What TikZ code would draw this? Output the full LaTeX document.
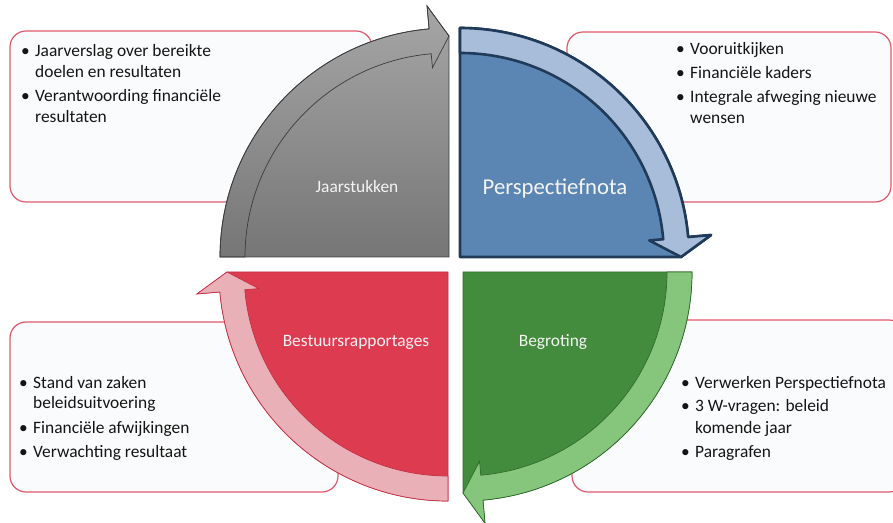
\documentclass[tikz,border=0pt]{standalone}
\usepackage{fontspec}
\setmainfont{Carlito}
\usetikzlibrary{calc}

\definecolor{boxline}{HTML}{E05A6B}
\definecolor{boxfill}{HTML}{FAFBFC}
\definecolor{bodytext}{HTML}{151515}
\definecolor{labeltext}{HTML}{F4F4F4}
\definecolor{jsTop}{HTML}{A6A6A6}
\definecolor{jsBot}{HTML}{767676}
\definecolor{jsLine}{HTML}{3C3C3C}
\definecolor{pnFill}{HTML}{5B86B3}
\definecolor{pnBand}{HTML}{A7BDD9}
\definecolor{pnLine}{HTML}{203A5A}
\definecolor{bgFill}{HTML}{438B3D}
\definecolor{bgBand}{HTML}{86C67C}
\definecolor{bgLine}{HTML}{306A2B}
\definecolor{brFill}{HTML}{DC3B50}
\definecolor{brBand}{HTML}{EAB0B8}
\definecolor{brLine}{HTML}{C42E42}

\begin{document}
\begin{tikzpicture}
    [x=1pt,y=1pt,
    infobox/.style={draw=boxline,line width=1.2pt,fill=boxfill,rounded corners=16pt},
    quadlabel/.style={anchor=base,text=labeltext,font=\fontsize{17.4}{21}\selectfont},
    bullets/.style={anchor=base west,inner sep=0pt,text=bodytext,font=\fontsize{17.4}{21}\selectfont},
    js-body/.style={top color=jsTop,bottom color=jsBot,draw=jsLine,line width=.7pt},
    js-band/.style={draw=jsLine,line width=.7pt},
    pn-body/.style={fill=pnFill,draw=pnLine,line width=2.6pt,line join=round},
    pn-band/.style={fill=pnBand,draw=pnLine,line width=2.6pt,line join=round},
    bg-body/.style={fill=bgFill,draw=bgLine,line width=.7pt},
    bg-band/.style={fill=bgBand,draw=bgLine,line width=.7pt},
    br-body/.style={fill=brFill,draw=brLine,line width=.7pt},
    br-band/.style={fill=brBand,draw=brLine,line width=.7pt}]

\useasboundingbox (0,0) rectangle (893,522);
\clip (0,0) rectangle (893,522);

%info boxes behind the cycle
\draw[infobox] (10,320) rectangle (372,491);
\draw[infobox] (567,320) rectangle (891,490);
\draw[infobox] (10,30) rectangle (338,200);
\draw[infobox] (572,30) rectangle (905,202);

%centres of the four quadrants
\coordinate (js) at (449,265);
\coordinate (pn) at (460,265);
\coordinate (bg) at (463,250);
\coordinate (br) at (448,250);

%quarter discs with their curved arrows
\foreach \q/\s in {js/180,pn/90,bg/0,br/-90}{
  \draw[\q-body] (\q) -- ($(\q)+(\s:229)$) arc[start angle=\s,end angle=\s-85,radius=229]
    -- ($(\q)+(\s-85:252)$) -- ($(\q)+(\s-90:221)$) -- cycle;
  \draw[\q-band] ($(\q)+(\s:229)$) arc[start angle=\s,end angle=\s-85,radius=229]
    -- ($(\q)+(\s-85:252)$) -- ($(\q)+(\s-90:221)$) -- ($(\q)+(\s-85:190)$)
    -- ($(\q)+(\s-85:204)$) arc[start angle=\s-85,end angle=\s,radius=204] -- cycle;
}

%names of the stages
\node[quadlabel] (jslabel) at (357,329) {Jaarstukken};
\node[quadlabel,font=\fontsize{22.7}{27}\selectfont] (pnlabel) at (555,327) {Perspectiefnota};
\node[quadlabel] (bglabel) at (553,175) {Begroting};
\node[quadlabel] (brlabel) at (356,175) {Bestuursrapportages};

%bullet texts
\node[bullets] (jstext) at (21,465) {\begin{tabular}[t]{@{}p{14pt}@{}l@{}}
  \textbullet & Jaarverslag over bereikte\\
              & doelen en resultaten\\[3pt]
  \textbullet & Verantwoording financiële\\
              & resultaten
  \end{tabular}};
\node[bullets] (pntext) at (676,467) {\begin{tabular}[t]{@{}p{14pt}@{}l@{}}
  \textbullet & Vooruitkijken\\[3pt]
  \textbullet & Financiële kaders\\[3pt]
  \textbullet & Integrale afweging nieuwe\\
              & wensen
  \end{tabular}};
\node[bullets] (brtext) at (19,134) {\begin{tabular}[t]{@{}p{14pt}@{}l@{}}
  \textbullet & Stand van zaken\\
              & beleidsuitvoering\\[3pt]
  \textbullet & Financiële afwijkingen\\[3pt]
  \textbullet & Verwachting resultaat
  \end{tabular}};
\node[bullets] (bgtext) at (681,134) {\begin{tabular}[t]{@{}p{14pt}@{}l@{}}
  \textbullet & Verwerken Perspectiefnota\\[3pt]
  \textbullet & 3 W-vragen: beleid\\
              & komende jaar\\[3pt]
  \textbullet & Paragrafen
  \end{tabular}};

\end{tikzpicture}
\end{document}
